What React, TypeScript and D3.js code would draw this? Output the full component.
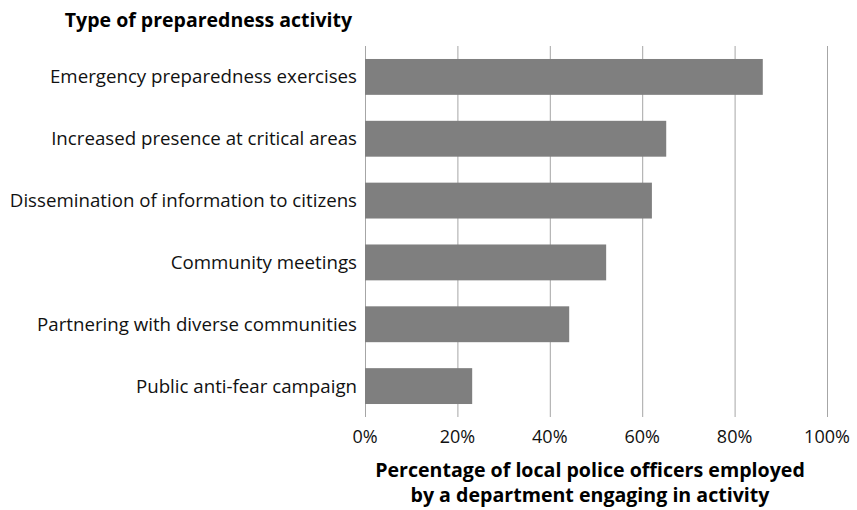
import React from "react";
import * as d3 from "d3";

const categories = [
  "Emergency preparedness exercises",
  "Increased presence at critical areas",
  "Dissemination of information to citizens",
  "Community meetings",
  "Partnering with diverse communities",
  "Public anti-fear campaign",
];
const values = [86.1, 65.2, 62.1, 52.2, 44.2, 23.2];
const ticks = [0, 20, 40, 60, 80, 100];
const yTitle = "Type of preparedness activity";
const xTitle = ["Percentage of local police officers employed", "by a department engaging in activity"];

const W = 857, H = 510;
const FONT = "'Open Sans', sans-serif";

export default function App() {
  const x = d3.scaleLinear().domain([0, 100]).range([365, 827]);
  const y = d3.scaleBand().domain(categories).range([46, 417]).paddingInner(0.42).paddingOuter(0.21);
  return (
    <svg width={W} height={H} style={{ position: "absolute", left: 0, top: 0 }} fontFamily={FONT}>
      <rect width={W} height={H} fill="#fff" />
      {ticks.map((t) => (
        <line key={t} x1={x(t) + 0.5} x2={x(t) + 0.5} y1={46} y2={417} stroke="#a6a6a6" strokeWidth={1} />
      ))}
      {categories.map((c, i) => (
        <rect key={c} x={x(0)} y={y(c)} width={x(values[i]) - x(0)} height={y.bandwidth()} fill="#7f7f7f" />
      ))}
      {categories.map((c) => (
        <text key={c} x={357} y={(y(c) as number) + y.bandwidth() / 2} dy="0.35em" textAnchor="end" fontSize={18.7} fill="#111">
          {c}
        </text>
      ))}
      {ticks.map((t) => (
        <text key={t} x={x(t)} y={437} dy="0.35em" textAnchor="middle" fontSize={18} fill="#111">
          {t}%
        </text>
      ))}
      <text x={352} y={20.5} dy="0.35em" textAnchor="end" fontSize={19.5} fontWeight="bold" fill="#000">
        {yTitle}
      </text>
      {xTitle.map((l, i) => (
        <text key={i} x={590} y={470 + i * 25.5} dy="0.35em" textAnchor="middle" fontSize={19.6} fontWeight="bold" fill="#000">
          {l}
        </text>
      ))}
    </svg>
  );
}
